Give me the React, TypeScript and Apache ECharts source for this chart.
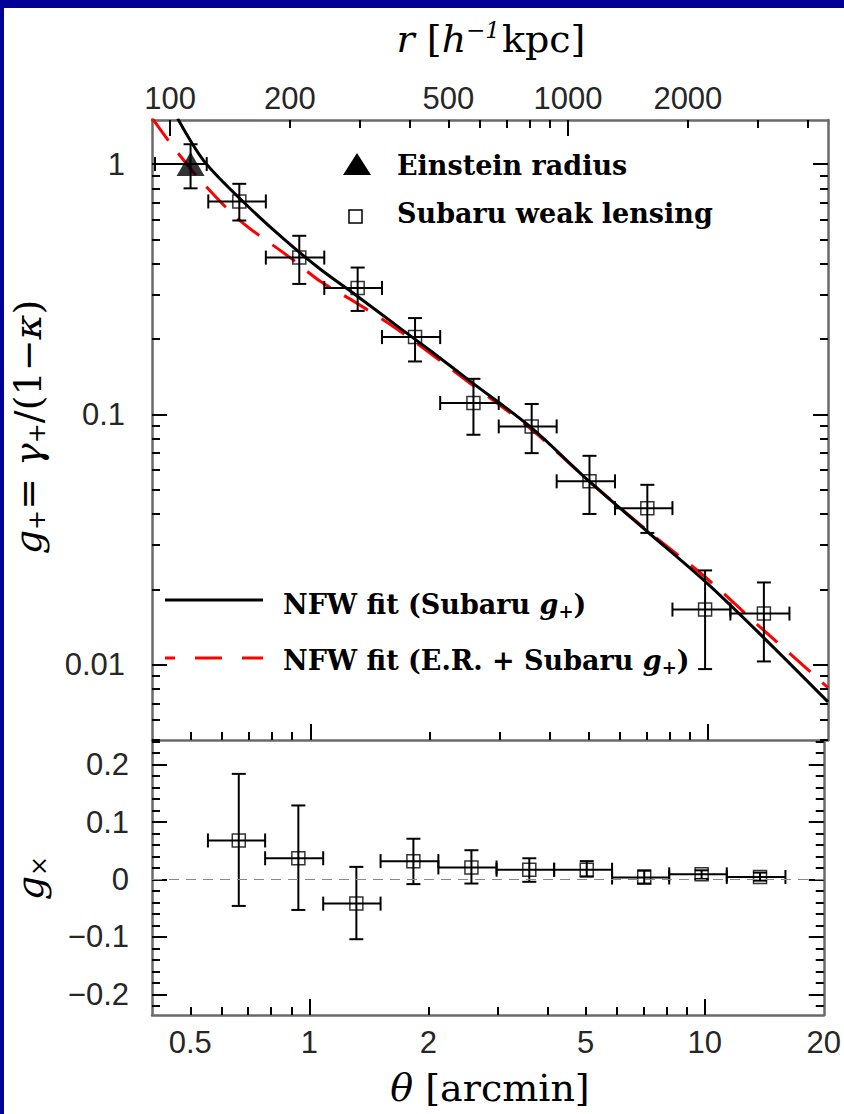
import { useEffect, useRef } from 'react';
import * as echarts from 'echarts';

// ---------- data ----------
// Subaru weak-lensing radial bins (arcmin)
const THETA = [0.663, 0.938, 1.315, 1.833, 2.57, 3.6, 5.03, 7.03, 9.82, 13.8];
const THETA_LO = [0.554, 0.773, 1.084, 1.514, 2.12, 2.975, 4.16, 5.83, 8.13, 11.37];
const THETA_HI = [0.773, 1.084, 1.514, 2.12, 2.975, 4.16, 5.83, 8.13, 11.37, 16.0];
// tangential reduced shear g+
const GPLUS = [0.709, 0.423, 0.32, 0.2036, 0.111, 0.0895, 0.054, 0.0422, 0.0166, 0.016];
const GPLUS_LO = [0.595, 0.332, 0.259, 0.1627, 0.0829, 0.07, 0.04, 0.0336, 0.0096, 0.0103];
const GPLUS_HI = [0.834, 0.517, 0.386, 0.2425, 0.1387, 0.11, 0.0683, 0.0523, 0.0238, 0.0213];
// cross shear gx
const GCROSS = [0.068, 0.037, -0.042, 0.032, 0.021, 0.017, 0.017, 0.0035, 0.009, 0.0045];
const GCROSS_LO = [-0.046, -0.053, -0.104, -0.008, -0.007, -0.004, 0.005, -0.007, 0.001, -0.002];
const GCROSS_HI = [0.184, 0.129, 0.022, 0.071, 0.051, 0.037, 0.032, 0.016, 0.016, 0.012];
// Einstein radius constraint
const ER_THETA = [0.5];
const ER_THETA_LO = [0.407];
const ER_THETA_HI = [0.549];
const ER_G = [1.0];
const ER_G_LO = [0.8];
const ER_G_HI = [1.2];
// NFW fit to Subaru g+ (solid black)
const NFW_SUB_THETA = [0.464, 0.54, 0.67, 0.86, 1.06, 1.3, 1.68, 2.0, 2.54, 3.58, 4.99, 7.0, 9.79, 13.8, 20];
const NFW_SUB_G = [1.52, 1.03, 0.72, 0.5, 0.38, 0.3, 0.221, 0.18, 0.1345, 0.0889, 0.0545, 0.0342, 0.0216, 0.0128, 0.0071];
// NFW fit to E.R. + Subaru g+ (red dashed)
const NFW_ER_THETA = [0.4, 0.447, 0.531, 0.668, 0.891, 1.059, 1.3, 1.68, 2.54, 3.58, 4.99, 7.0, 9.79, 13.8, 20];
const NFW_ER_G = [1.53, 1.2, 0.857, 0.592, 0.422, 0.34, 0.28, 0.215, 0.132, 0.0875, 0.0545, 0.0345, 0.0225, 0.0137, 0.0081];

// axes
const THETA_MIN = 0.4;
const THETA_MAX = 20;
const R_PER_ARCMIN = 225; // h^-1 kpc per arcmin
const GPLUS_MIN = 0.005;
const GPLUS_MAX = 1.5;
const GCROSS_MIN = -0.236;
const GCROSS_MAX = 0.243;
const THETA_MAJOR = [1, 10];
const THETA_MINOR = [0.5, 0.6, 0.7, 0.8, 0.9, 2, 3, 4, 5, 6, 7, 8, 9];
const THETA_LABELS = [0.5, 1, 2, 5, 10, 20];
const R_MAJOR = [100, 1000];
const R_MINOR = [200, 300, 400, 500, 600, 700, 800, 900, 2000, 3000, 4000];
const R_LABELS = [100, 200, 500, 1000, 2000];
const GPLUS_MAJOR = [0.01, 0.1, 1];
const GPLUS_MINOR = [0.005, 0.006, 0.007, 0.008, 0.009, 0.02, 0.03, 0.04, 0.05, 0.06, 0.07, 0.08, 0.09, 0.2, 0.3, 0.4, 0.5, 0.6, 0.7, 0.8, 0.9];
const GCROSS_MAJOR = [-0.2, -0.1, 0, 0.1, 0.2];
const GCROSS_MINOR = [-0.22, -0.18, -0.16, -0.14, -0.12, -0.08, -0.06, -0.04, -0.02, 0.02, 0.04, 0.06, 0.08, 0.12, 0.14, 0.16, 0.18, 0.22, 0.24];

// ---------- styling ----------
const FRAME = '#6a6a6a';
const BLUE = '#000099';
const SANS = 'Liberation Sans';
const SERIF = 'DejaVu Serif';

const fmt = (v: number) => {
  const s = String(Number(Number(v).toPrecision(6)));
  return s.startsWith('-') ? '\u2212' + s.slice(1) : s;
};

function mkAxis(o: any) {
  return {
    gridIndex: o.gridIndex,
    position: o.position,
    type: o.type,
    logBase: 10,
    min: o.min,
    max: o.max,
    silent: true,
    axisLine: { show: o.line, onZero: false, lineStyle: { color: FRAME, width: 2.5 } },
    axisTick: {
      show: true,
      inside: true,
      length: o.tickLen,
      customValues: o.ticks,
      lineStyle: { color: '#000', width: 2 },
    },
    axisLabel: o.labels
      ? {
          show: true,
          customValues: o.labels,
          formatter: fmt,
          margin: o.margin,
          fontFamily: SANS,
          fontSize: 31,
          color: '#262626',
        }
      : { show: false },
    splitLine: { show: false },
    minorTick: { show: false },
    minorSplitLine: { show: false },
    axisPointer: { show: false },
  };
}

function errorBars(xAxisIndex: number, yAxisIndex: number, data: number[][]) {
  return {
    type: 'custom',
    xAxisIndex,
    yAxisIndex,
    z: 3,
    data,
    encode: { x: 0, y: 1 },
    renderItem: (_p: any, api: any) => {
      const x = api.value(0);
      const y = api.value(1);
      const l = api.coord([api.value(2), y]);
      const r = api.coord([api.value(3), y]);
      const b = api.coord([x, api.value(4)]);
      const t = api.coord([x, api.value(5)]);
      const h = 7;
      const style = { stroke: '#000', lineWidth: 2 };
      const ln = (x1: number, y1: number, x2: number, y2: number) => ({
        type: 'line',
        shape: { x1, y1, x2, y2 },
        style,
      });
      return {
        type: 'group',
        children: [
          ln(l[0], l[1], r[0], r[1]),
          ln(l[0], l[1] - h, l[0], l[1] + h),
          ln(r[0], r[1] - h, r[0], r[1] + h),
          ln(b[0], b[1], t[0], t[1]),
          ln(b[0] - h, b[1], b[0] + h, b[1]),
          ln(t[0] - h, t[1], t[0] + h, t[1]),
        ],
      };
    },
  };
}

const TITLE_RICH = {
  r: { fontFamily: SERIF, fontSize: 38, color: '#111' },
  i: { fontFamily: SERIF, fontStyle: 'italic', fontSize: 38, color: '#111' },
  sup: { fontFamily: SERIF, fontStyle: 'italic', fontSize: 23, color: '#111', padding: [0, 2, 18, 0] },
  sub: { fontFamily: SERIF, fontSize: 24, color: '#111', padding: [18, 0, 0, 0] },
};

function legendRich(color: string) {
  return {
    b: { fontFamily: SERIF, fontWeight: 'bold', fontSize: 27, color },
    bi: { fontFamily: SERIF, fontWeight: 'bold', fontStyle: 'italic', fontSize: 27, color },
    sub: { fontFamily: SERIF, fontWeight: 'bold', fontSize: 18, color, padding: [14, 0, 0, 0] },
  };
}

export default function App() {
  const ref = useRef<HTMLDivElement>(null);

  useEffect(() => {
    if (!ref.current) return;
    const chart = echarts.init(ref.current, undefined, { renderer: 'svg' });

    const gplusData = THETA.map((t, i) => [t, GPLUS[i]]);
    const gplusErr = THETA.map((t, i) => [t, GPLUS[i], THETA_LO[i], THETA_HI[i], GPLUS_LO[i], GPLUS_HI[i]]);
    const gcrossData = THETA.map((t, i) => [t, GCROSS[i]]);
    const gcrossErr = THETA.map((t, i) => [t, GCROSS[i], THETA_LO[i], THETA_HI[i], GCROSS_LO[i], GCROSS_HI[i]]);
    const erData = ER_THETA.map((t, i) => [t, ER_G[i]]);
    const erErr = ER_THETA.map((t, i) => [t, ER_G[i], ER_THETA_LO[i], ER_THETA_HI[i], ER_G_LO[i], ER_G_HI[i]]);

    const center = { align: 'center', verticalAlign: 'middle', textAlign: 'center', textVerticalAlign: 'middle' };
    const leftMid = { align: 'left', verticalAlign: 'middle', textAlign: 'left', textVerticalAlign: 'middle' };

    const option: any = {
      animation: false,
      backgroundColor: '#ffffff',
      grid: [
        { left: 152, top: 120, width: 676, height: 620 },
        { left: 152, top: 740, width: 676, height: 275 },
      ],
      xAxis: [
        mkAxis({ gridIndex: 0, position: 'bottom', type: 'log', min: THETA_MIN, max: THETA_MAX, ticks: THETA_MAJOR, tickLen: 16, line: true }),
        mkAxis({ gridIndex: 0, position: 'bottom', type: 'log', min: THETA_MIN, max: THETA_MAX, ticks: THETA_MINOR, tickLen: 8, line: false }),
        mkAxis({ gridIndex: 0, position: 'top', type: 'log', min: THETA_MIN * R_PER_ARCMIN, max: THETA_MAX * R_PER_ARCMIN, ticks: R_MAJOR, tickLen: 16, line: true, labels: R_LABELS, margin: 6 }),
        mkAxis({ gridIndex: 0, position: 'top', type: 'log', min: THETA_MIN * R_PER_ARCMIN, max: THETA_MAX * R_PER_ARCMIN, ticks: R_MINOR, tickLen: 8, line: false }),
        mkAxis({ gridIndex: 1, position: 'bottom', type: 'log', min: THETA_MIN, max: THETA_MAX, ticks: THETA_MAJOR, tickLen: 16, line: true, labels: THETA_LABELS, margin: 12 }),
        mkAxis({ gridIndex: 1, position: 'bottom', type: 'log', min: THETA_MIN, max: THETA_MAX, ticks: THETA_MINOR, tickLen: 8, line: false }),
      ],
      yAxis: [
        mkAxis({ gridIndex: 0, position: 'left', type: 'log', min: GPLUS_MIN, max: GPLUS_MAX, ticks: GPLUS_MAJOR, tickLen: 15, line: true, labels: GPLUS_MAJOR, margin: 27 }),
        mkAxis({ gridIndex: 0, position: 'left', type: 'log', min: GPLUS_MIN, max: GPLUS_MAX, ticks: GPLUS_MINOR, tickLen: 8, line: false }),
        mkAxis({ gridIndex: 0, position: 'right', type: 'log', min: GPLUS_MIN, max: GPLUS_MAX, ticks: GPLUS_MAJOR, tickLen: 15, line: true }),
        mkAxis({ gridIndex: 0, position: 'right', type: 'log', min: GPLUS_MIN, max: GPLUS_MAX, ticks: GPLUS_MINOR, tickLen: 8, line: false }),
        mkAxis({ gridIndex: 1, position: 'left', type: 'value', min: GCROSS_MIN, max: GCROSS_MAX, ticks: GCROSS_MAJOR, tickLen: 15, line: true, labels: GCROSS_MAJOR, margin: 23 }),
        mkAxis({ gridIndex: 1, position: 'left', type: 'value', min: GCROSS_MIN, max: GCROSS_MAX, ticks: GCROSS_MINOR, tickLen: 8, line: false }),
        mkAxis({ gridIndex: 1, position: 'right', type: 'value', min: GCROSS_MIN, max: GCROSS_MAX, ticks: GCROSS_MAJOR, tickLen: 15, line: true }),
        mkAxis({ gridIndex: 1, position: 'right', type: 'value', min: GCROSS_MIN, max: GCROSS_MAX, ticks: GCROSS_MINOR, tickLen: 8, line: false }),
      ],
      series: [
        {
          name: 'NFW fit (E.R. + Subaru g+)',
          type: 'line',
          xAxisIndex: 0,
          yAxisIndex: 0,
          z: 2,
          data: NFW_ER_THETA.map((t, i) => [t, NFW_ER_G[i]]),
          showSymbol: false,
          symbol: 'none',
          smooth: 0.3,
          clip: true,
          lineStyle: { color: '#ff0000', width: 3, type: [28, 16] },
        },
        {
          name: 'NFW fit (Subaru g+)',
          type: 'line',
          xAxisIndex: 0,
          yAxisIndex: 0,
          z: 2,
          data: NFW_SUB_THETA.map((t, i) => [t, NFW_SUB_G[i]]),
          showSymbol: false,
          symbol: 'none',
          smooth: 0.3,
          clip: true,
          lineStyle: { color: '#000', width: 3 },
        },
        errorBars(0, 0, gplusErr),
        errorBars(0, 0, erErr),
        {
          name: 'Subaru weak lensing',
          type: 'scatter',
          xAxisIndex: 0,
          yAxisIndex: 0,
          z: 4,
          data: gplusData,
          symbol: 'rect',
          symbolSize: 13,
          itemStyle: { color: 'rgba(0,0,0,0)', borderColor: '#000', borderWidth: 1.5 },
        },
        {
          name: 'Einstein radius',
          type: 'scatter',
          xAxisIndex: 0,
          yAxisIndex: 0,
          z: 4,
          data: erData,
          symbol: 'triangle',
          symbolSize: [28, 24],
          itemStyle: { color: '#000' },
        },
        errorBars(4, 4, gcrossErr),
        {
          name: 'g_x',
          type: 'scatter',
          xAxisIndex: 4,
          yAxisIndex: 4,
          z: 4,
          data: gcrossData,
          symbol: 'rect',
          symbolSize: 13,
          itemStyle: { color: 'rgba(0,0,0,0)', borderColor: '#000', borderWidth: 1.5 },
          markLine: {
            silent: true,
            symbol: 'none',
            label: { show: false },
            lineStyle: { color: '#888', type: [10, 7], width: 1.2 },
            data: [{ yAxis: 0 }],
          },
        },
      ],
      graphic: [
        // blue slide border
        { type: 'rect', z: 100, shape: { x: 0, y: 0, width: 844, height: 8 }, style: { fill: BLUE } },
        { type: 'rect', z: 100, shape: { x: 0, y: 0, width: 4, height: 1114 }, style: { fill: BLUE } },
        // axis titles
        {
          type: 'text', z: 50, x: 491, y: 39,
          style: { text: '{i|r}{r| [}{i|h}{sup|\u22121}{r|kpc]}', rich: TITLE_RICH, ...center },
        },
        {
          type: 'text', z: 50, x: 490, y: 1088,
          style: { text: '{i|\u03b8}{r| [arcmin]}', rich: TITLE_RICH, ...center },
        },
        {
          type: 'text', z: 50, x: 28, y: 427, rotation: Math.PI / 2,
          style: { text: '{i|g}{sub|+}{r|= }{i|\u03b3}{sub|+}{r|/(1\u2212}{i|\u03ba}{r|)}', rich: TITLE_RICH, ...center },
        },
        {
          type: 'text', z: 50, x: 30, y: 878, rotation: Math.PI / 2,
          style: { text: '{i|g}{sub|\u00d7}', rich: TITLE_RICH, ...center },
        },
        // legend: markers
        { type: 'polygon', z: 50, shape: { points: [[343, 175], [371, 175], [357, 153]] }, style: { fill: '#000' } },
        { type: 'rect', z: 50, shape: { x: 349, y: 210, width: 13, height: 13 }, style: { fill: 'none', stroke: '#000', lineWidth: 1.5 } },
        {
          type: 'text', z: 50, x: 397, y: 165,
          style: { text: '{b|Einstein radius}', rich: legendRich('#000'), ...leftMid },
        },
        {
          type: 'text', z: 50, x: 397, y: 213,
          style: { text: '{b|Subaru weak lensing}', rich: legendRich('#000'), ...leftMid },
        },
        // legend: lines
        { type: 'line', z: 50, shape: { x1: 165, y1: 600, x2: 263, y2: 600 }, style: { stroke: '#000', lineWidth: 3 } },
        { type: 'line', z: 50, shape: { x1: 165, y1: 658, x2: 263, y2: 658 }, style: { stroke: '#ff0000', lineWidth: 3, lineDash: [27, 20], lineDashOffset: 17 } },
        {
          type: 'text', z: 50, x: 283, y: 604,
          style: { text: '{b|NFW fit (Subaru }{bi|g}{sub|+}{b|)}', rich: legendRich('#000'), ...leftMid },
        },
        {
          type: 'text', z: 50, x: 283, y: 660,
          style: { text: '{b|NFW fit (E.R. + Subaru }{bi|g}{sub|+}{b|)}', rich: legendRich('#ff0000'), ...leftMid },
        },
      ],
    };

    chart.setOption(option);
    return () => chart.dispose();
  }, []);

  return <div ref={ref} style={{ position: 'fixed', left: 0, top: 0, width: 844, height: 1114 }} />;
}
